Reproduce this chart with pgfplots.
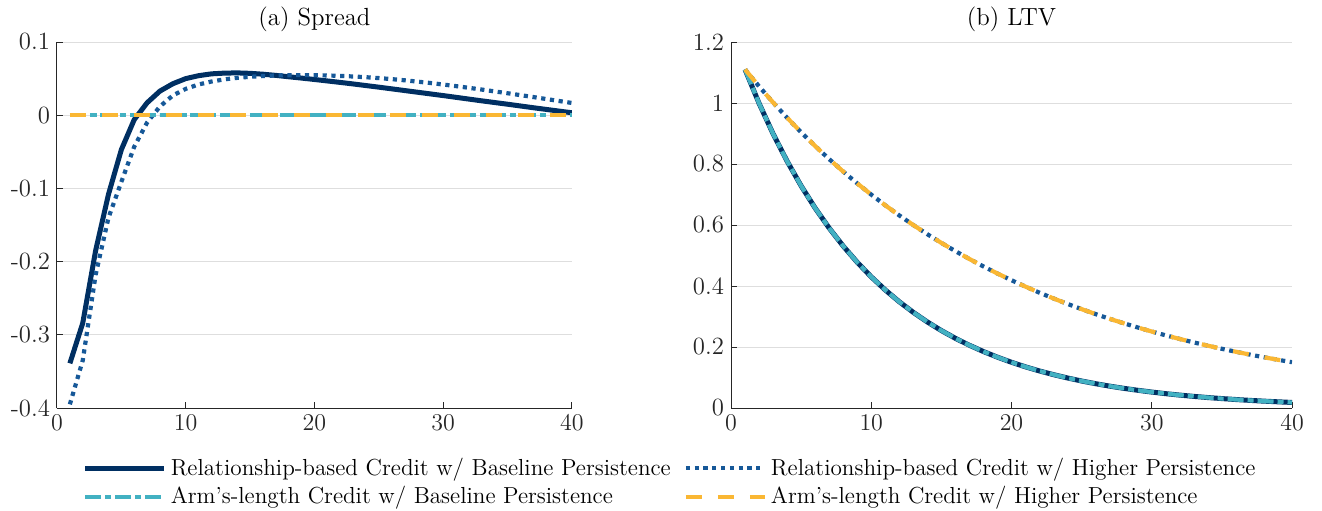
\documentclass[border=0pt]{standalone}
\usepackage{pgfplots}
\pgfplotsset{compat=1.18}
\usepackage{pgfplotstable}
\definecolor{navy}{RGB}{0,47,98}
\definecolor{dblue}{RGB}{22,88,152}
\definecolor{cyn}{RGB}{66,177,194}
\definecolor{yel}{RGB}{250,183,51}
\definecolor{axgray}{RGB}{38,38,38}
\definecolor{gridgray}{RGB}{222,222,222}

\pgfplotstableread{
x rb rh ab ah
1 -0.339 -0.395 0 0
2 -0.284 -0.335 0 0
3 -0.185 -0.218 0 0
4 -0.108 -0.140 0 0
5 -0.047 -0.091 0 0
6 -0.006 -0.043 0 0
7 0.017 -0.010 0 0
8 0.033 0.012 0 0
9 0.043 0.027 0 0
10 0.050 0.036 0 0
11 0.054 0.042 0 0
12 0.0565 0.046 0 0
13 0.0575 0.049 0 0
14 0.0578 0.051 0 0
15 0.0572 0.0525 0 0
16 0.0560 0.0535 0 0
17 0.0544 0.0543 0 0
18 0.0525 0.0547 0 0
19 0.0507 0.0548 0 0
20 0.0488 0.0547 0 0
21 0.0468 0.0543 0 0
22 0.0448 0.0537 0 0
23 0.0427 0.0529 0 0
24 0.0405 0.0519 0 0
25 0.0383 0.0507 0 0
26 0.0360 0.0493 0 0
27 0.0337 0.0477 0 0
28 0.0314 0.0459 0 0
29 0.0291 0.0440 0 0
30 0.0268 0.0419 0 0
31 0.0244 0.0397 0 0
32 0.0220 0.0374 0 0
33 0.0196 0.0350 0 0
34 0.0173 0.0325 0 0
35 0.0150 0.0300 0 0
36 0.0126 0.0274 0 0
37 0.0102 0.0248 0 0
38 0.0079 0.0221 0 0
39 0.0056 0.0194 0 0
40 0.0033 0.0167 0 0
}\spread

\pgfplotstableread{
x rb rh ab ah
1 1.1100 1.1100 1.1100 1.1100
2 0.9990 1.0545 0.9990 1.0545
3 0.8991 1.0018 0.8991 1.0018
4 0.8092 0.9517 0.8092 0.9517
5 0.7283 0.9041 0.7283 0.9041
6 0.6554 0.8589 0.6554 0.8589
7 0.5899 0.8160 0.5899 0.8160
8 0.5309 0.7752 0.5309 0.7752
9 0.4778 0.7364 0.4778 0.7364
10 0.4300 0.6996 0.4300 0.6996
11 0.3870 0.6646 0.3870 0.6646
12 0.3483 0.6314 0.3483 0.6314
13 0.3135 0.5998 0.3135 0.5998
14 0.2821 0.5698 0.2821 0.5698
15 0.2539 0.5413 0.2539 0.5413
16 0.2285 0.5143 0.2285 0.5143
17 0.2057 0.4885 0.2057 0.4885
18 0.1851 0.4641 0.1851 0.4641
19 0.1666 0.4409 0.1666 0.4409
20 0.1499 0.4189 0.1499 0.4189
21 0.1349 0.3979 0.1349 0.3979
22 0.1214 0.3780 0.1214 0.3780
23 0.1093 0.3591 0.1093 0.3591
24 0.0984 0.3412 0.0984 0.3412
25 0.0885 0.3241 0.0885 0.3241
26 0.0797 0.3079 0.0797 0.3079
27 0.0717 0.2925 0.0717 0.2925
28 0.0645 0.2779 0.0645 0.2779
29 0.0581 0.2640 0.0581 0.2640
30 0.0523 0.2508 0.0523 0.2508
31 0.0470 0.2382 0.0470 0.2382
32 0.0423 0.2263 0.0423 0.2263
33 0.0381 0.2150 0.0381 0.2150
34 0.0343 0.2043 0.0343 0.2043
35 0.0309 0.1941 0.0309 0.1941
36 0.0278 0.1844 0.0278 0.1844
37 0.0250 0.1751 0.0250 0.1751
38 0.0225 0.1664 0.0225 0.1664
39 0.0203 0.1581 0.0203 0.1581
40 0.0182 0.1502 0.0182 0.1502
}\ltv

\pgfplotsset{
  myax/.style={
    scale only axis, width=257.5pt, height=183pt,
    xmin=0, xmax=40, xtick={0,10,20,30,40},
    axis x line*=bottom, axis y line*=left,
    axis line style={axgray, line width=0.5pt, -},
    tick align=inside, major tick length=3pt,
    tick style={axgray, line width=0.5pt},
    ymajorgrids, grid style={gridgray, line width=0.5pt},
    tick label style={font=\fontsize{12.4}{14}\selectfont, text=axgray},
    title style={font=\fontsize{12.4}{14}\selectfont, text=black, yshift=-4.5pt},
  },
  relbase/.style={navy, line width=2.5pt},
  relhigh/.style={dblue, line width=2.1pt, dash pattern=on 2.1pt off 2.3pt},
  armbase/.style={cyn, line width=2.1pt, dash pattern=on 8pt off 2pt on 3pt off 2pt},
  armhigh/.style={yel, line width=2.1pt, dash pattern=on 8pt off 8pt},
}

\begin{document}
\begin{tikzpicture}
\useasboundingbox (-28.5pt,-51pt) rectangle (632.5pt,204pt);
\begin{axis}[myax,
  ymin=-0.4, ymax=0.1,
  ytick={-0.4,-0.3,-0.2,-0.1,0,0.1},
  yticklabels={-0.4,-0.3,-0.2,-0.1,0,0.1},
  title={(a) Spread},
  legend columns=2,
  legend cell align=left,
  legend style={at={(0.05,0)}, anchor=north west, yshift=-23pt,
    draw=none, fill=none, inner sep=0pt, outer sep=0pt,
    font=\fontsize{11.6}{13.5}\selectfont,
    /tikz/every even column/.append style={column sep=4.5pt}},
  legend image code/.code={\draw[#1] (0pt,0pt) -- (39.5pt,0pt);},
]
\addplot[relbase] table[x=x,y=rb] {\spread};
\addlegendentry{Relationship-based Credit w/ Baseline Persistence}
\addplot[relhigh] table[x=x,y=rh] {\spread};
\addlegendentry{Relationship-based Credit w/ Higher Persistence}
\addplot[armbase] table[x=x,y=ab] {\spread};
\addlegendentry{Arm's-length Credit w/ Baseline Persistence}
\addplot[armhigh] table[x=x,y=ah] {\spread};
\addlegendentry{Arm's-length Credit w/ Higher Persistence}
\end{axis}
\begin{axis}[myax, at={(337pt,0pt)}, width=280.5pt,
  ymin=0, ymax=1.2,
  ytick={0,0.2,0.4,0.6,0.8,1,1.2},
  yticklabels={0,0.2,0.4,0.6,0.8,1,1.2},
  title={(b) LTV},
]
\addplot[relbase] table[x=x,y=rb] {\ltv};
\addplot[relhigh] table[x=x,y=rh] {\ltv};
\addplot[armbase] table[x=x,y=ab] {\ltv};
\addplot[armhigh] table[x=x,y=ah] {\ltv};
\end{axis}
\end{tikzpicture}
\end{document}
